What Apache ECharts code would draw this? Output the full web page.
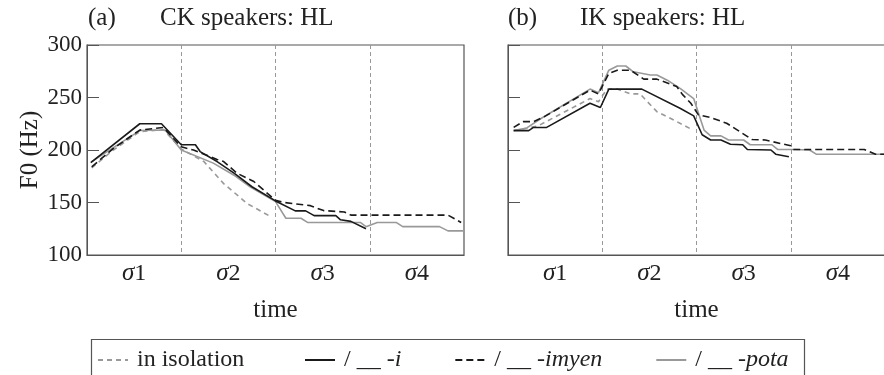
<!DOCTYPE html>
<html>
<head>
<meta charset="utf-8">
<script src="https://cdn.jsdelivr.net/npm/echarts@6/dist/echarts.min.js"></script>
<style>
  html, body { margin: 0; padding: 0; background: #fff; }
  #chart { width: 884px; height: 375px; }
</style>
</head>
<body>
<div id="chart"></div>
<script>
// tick labels on the time axis (one per syllable)
var syllables = ['σ1', 'σ2', 'σ3', 'σ4'];

// (a) CK speakers: HL   -- [time (syllables), F0 (Hz)]
var ckIsolation = [[0.05, 183], [0.28, 200], [0.56, 217.5], [0.81, 219.5], [1.0, 201], [1.24, 189], [1.45, 168], [1.7, 149], [1.95, 136.5]];
var ckI = [[0.04, 188], [0.56, 225], [0.79, 225], [1.0, 205], [1.15, 205], [1.2, 198.5], [1.38, 189], [1.56, 178], [1.75, 165], [2.0, 151.5], [2.21, 142], [2.32, 142], [2.41, 137.5], [2.64, 137.5], [2.69, 133.5], [2.8, 132], [2.96, 125]];
var ckImyen = [[0.05, 184], [0.28, 201.5], [0.56, 219], [0.81, 221.5], [1.0, 203], [1.13, 200], [1.38, 191], [1.45, 189], [1.59, 178], [1.77, 170], [2.0, 152], [2.09, 150], [2.37, 147], [2.51, 142.3], [2.73, 141], [2.8, 138], [3.83, 138], [3.97, 131]];
var ckPota = [[0.05, 189], [0.56, 218.5], [0.83, 219], [1.0, 200], [1.34, 187.5], [1.56, 176], [1.73, 165], [2.0, 151], [2.02, 148], [2.11, 135], [2.27, 135], [2.34, 131], [2.9, 131], [2.96, 127], [3.08, 131], [3.28, 131], [3.35, 127], [3.74, 127], [3.83, 123], [4.0, 123]];

// (b) IK speakers: HL
var ikIsolation = [[0.06, 218.5], [0.22, 221], [0.32, 223], [0.87, 249], [0.96, 246], [1.05, 258], [1.16, 258], [1.3, 253.5], [1.4, 253.5], [1.58, 236.5], [1.76, 228.5], [1.94, 220]];
var ikI = [[0.06, 218.5], [0.22, 218.5], [0.27, 221.5], [0.41, 221.5], [0.87, 244.5], [0.98, 240.5], [1.07, 258], [1.42, 258], [1.83, 239.5], [1.97, 232.5], [2.06, 214.5], [2.15, 209.5], [2.26, 209.5], [2.36, 205.5], [2.49, 205], [2.54, 200.5], [2.79, 200], [2.84, 196], [2.98, 193.5]];
var ikImyen = [[0.06, 221.5], [0.16, 227], [0.27, 227], [0.39, 232], [0.87, 257], [0.96, 253.5], [1.07, 273], [1.16, 276], [1.3, 276], [1.44, 267.5], [1.58, 267.5], [1.79, 260.5], [1.85, 253], [1.94, 244.5], [2.02, 233.5], [2.15, 231], [2.32, 225.5], [2.59, 210], [2.73, 209.5], [3.0, 204], [3.03, 200.5], [3.78, 200.5], [3.9, 196], [4.0, 196]];
var ikPota = [[0.06, 218.5], [0.2, 221], [0.35, 230], [0.87, 258], [0.96, 254.5], [1.07, 276], [1.16, 280], [1.25, 280], [1.33, 274.5], [1.51, 271.5], [1.58, 271.5], [1.69, 266.5], [1.83, 258.5], [1.97, 249], [2.08, 219], [2.15, 213.5], [2.26, 213.5], [2.34, 209.5], [2.5, 209.5], [2.57, 205], [2.8, 205], [2.86, 200.5], [3.03, 200.5], [3.2, 200], [3.27, 196], [4.0, 196]];

var FONT = 'Liberation Serif';
var INK = '#222';
var FRAME = '#555';

var names = ['in isolation', '/ __ -i', '/ __ -imyen', '/ __ -pota'];
var styles = [
  { color: '#999', type: [5, 4] },
  { color: '#1a1a1a', type: 'solid' },
  { color: '#1a1a1a', type: [7, 4] },
  { color: '#999', type: 'solid' }
];

function line(idx, data, panel) {
  return {
    type: 'line',
    name: names[idx],
    data: data,
    xAxisIndex: panel * 2,
    yAxisIndex: panel,
    symbol: 'none',
    animation: false,
    lineStyle: { color: styles[idx].color, type: styles[idx].type, width: 1.6 },
    itemStyle: { color: styles[idx].color }
  };
}

function valueX(grid) {
  return {
    type: 'value', gridIndex: grid, min: 0, max: 4, interval: 1,
    name: 'time', nameLocation: 'middle', nameGap: 43,
    nameTextStyle: { fontFamily: FONT, fontSize: 25, color: INK },
    axisLine: { show: true, lineStyle: { color: FRAME } },
    axisTick: { show: false },
    axisLabel: { show: false },
    splitLine: { show: true, lineStyle: { color: '#999', type: [4, 3], width: 1 } }
  };
}

function catX(grid) {
  return {
    type: 'category', gridIndex: grid, position: 'bottom', data: syllables,
    axisLine: { show: false }, axisTick: { show: false },
    axisLabel: {
      margin: 6,
      formatter: function (v) { return '{s|σ}{n|' + v.slice(1) + '}'; },
      rich: {
        s: { fontFamily: FONT, fontStyle: 'italic', fontSize: 25, color: INK },
        n: { fontFamily: FONT, fontSize: 24, color: INK }
      }
    }
  };
}

function valueY(grid, labels) {
  return {
    type: 'value', gridIndex: grid, min: 100, max: 300, interval: 50,
    name: labels ? 'F0 (Hz)' : '', nameLocation: 'middle', nameRotate: 90, nameGap: 44,
    nameTextStyle: { fontFamily: FONT, fontSize: 25, color: INK },
    axisLine: { show: true, lineStyle: { color: FRAME } },
    axisTick: { show: true, inside: true, length: 12, lineStyle: { color: FRAME } },
    axisLabel: { show: labels, margin: 5, fontFamily: FONT, fontSize: 23, color: INK },
    splitLine: { show: false }
  };
}

var titleStyle = { fontFamily: FONT, fontWeight: 'normal', fontSize: 25, color: INK };

var chart = echarts.init(document.getElementById('chart'));
chart.setOption({
  backgroundColor: '#fff',
  animation: false,
  title: [
    { text: '(a)', left: 88, top: 6, padding: 0, textStyle: titleStyle },
    { text: 'CK speakers: HL', left: 160, top: 6, padding: 0, textStyle: titleStyle },
    { text: '(b)', left: 508, top: 6, padding: 0, textStyle: titleStyle },
    { text: 'IK speakers: HL', left: 580, top: 6, padding: 0, textStyle: titleStyle }
  ],
  grid: [
    { left: 87, top: 45, width: 377, height: 210, show: true, borderColor: FRAME, borderWidth: 1.2, outerBoundsMode: 'none' },
    { left: 508, top: 45, width: 377, height: 210, show: true, borderColor: FRAME, borderWidth: 1.2, outerBoundsMode: 'none' }
  ],
  xAxis: [valueX(0), catX(0), valueX(1), catX(1)],
  yAxis: [valueY(0, true), valueY(1, false)],
  legend: {
    data: names,
    left: 92, top: 343,
    itemWidth: 30, itemHeight: 14, itemGap: 53,
    itemStyle: { opacity: 0 },
    formatter: function (n) {
      if (n === names[0]) return '{t|' + n + '}{g| }';
      return '{t|/ __ }{i|' + n.slice(5) + '}';
    },
    textStyle: {
      rich: {
        t: { fontFamily: FONT, fontSize: 24, color: INK, padding: [0, 0, 0, 4] },
        i: { fontFamily: FONT, fontStyle: 'italic', fontSize: 24, color: INK },
        g: { fontSize: 24, width: 30 }
      }
    }
  },
  graphic: [{
    type: 'rect', left: 89, top: 337, shape: { width: 713, height: 60 },
    style: { fill: 'none', stroke: FRAME, lineWidth: 1.2 }, silent: true
  }],
  series: [
    line(0, ckIsolation, 0), line(3, ckPota, 0), line(2, ckImyen, 0), line(1, ckI, 0),
    line(0, ikIsolation, 1), line(3, ikPota, 1), line(2, ikImyen, 1), line(1, ikI, 1)
  ]
});
</script>
</body>
</html>
